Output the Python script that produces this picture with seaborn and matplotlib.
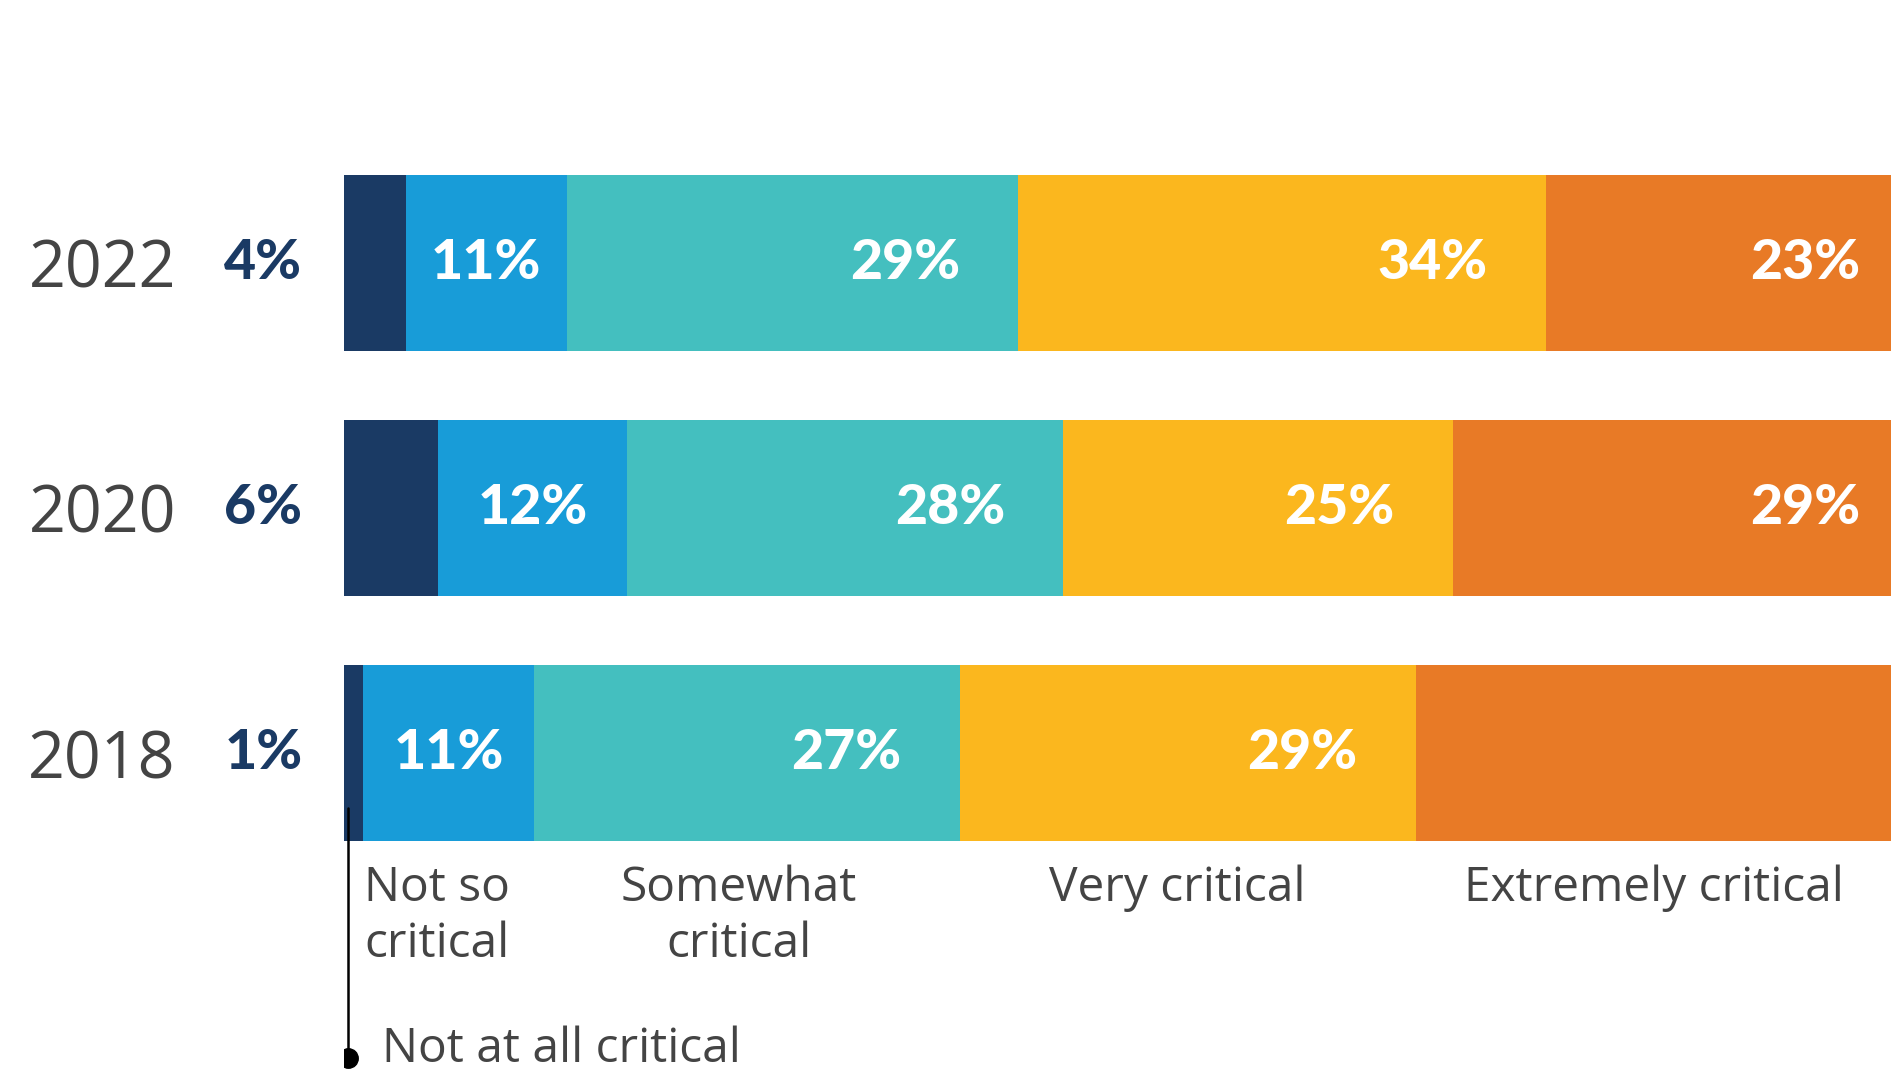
import numpy as np
import pandas as pd
import seaborn as sns
import matplotlib.pyplot as plt

# DATA (segment lengths, printed labels as shown)
years = ['2022', '2020', '2018']
categories = ['Not at all critical', 'Not so critical', 'Somewhat critical',
              'Very critical', 'Extremely critical']
not_at_all = [4.0, 6.1, 1.2]
not_so = [10.4, 12.2, 11.1]
somewhat = [29.2, 28.2, 27.5]
very = [34.1, 25.2, 29.5]
extremely = [22.3, 28.3, 30.7]
labels = [['4%', '11%', '29%', '34%', '23%'],
          ['6%', '12%', '28%', '25%', '29%'],
          ['1%', '11%', '27%', '29%', '']]

colors = ['#1a3a64', '#189cd8', '#44bfbf', '#fbb71e', '#e87a26']
text_gray = '#444444'

sns.set_style('white')
plt.rcParams['font.family'] = ['Open Sans', 'DejaVu Sans']

df = pd.DataFrame({'year': years, 'c0': not_at_all, 'c1': not_so,
                   'c2': somewhat, 'c3': very, 'c4': extremely})
vals = df[['c0', 'c1', 'c2', 'c3', 'c4']].to_numpy()
cum = vals.cumsum(axis=1)

fig = plt.figure(figsize=(18.91, 10.75), dpi=100)
left = 344 / 1891
ax = fig.add_axes([left, 0, 1 - left, 1])

# STACKED BARS: draw cumulative totals from the last segment back to the first
for k in range(4, -1, -1):
    sns.barplot(x=cum[:, k], y=df['year'], order=years, orient='h',
                color=colors[k], saturation=1, width=0.72, linewidth=0,
                ax=ax)

ax.set_xlim(0, 100)
ax.set_ylim(3.314, -1.073)
ax.set_xlabel('')
ax.set_ylabel('')
ax.set_xticks([])
sns.despine(ax=ax, left=True, bottom=True)
ax.tick_params(axis='y', length=0, pad=121, labelsize=46.5, labelcolor=text_gray)
for t in ax.get_yticklabels():
    t.set_fontfamily(['Open Sans', 'DejaVu Sans'])

# VALUE LABELS
lab_font = dict(family=['Lato', 'DejaVu Sans'], weight='black', fontsize=40)
for i in range(len(years)):
    ax.annotate(labels[i][0], xy=(0, i), xytext=(-30, 0),
                textcoords='offset points', ha='right', va='center',
                color=colors[0], **lab_font)
    # second segment: centred
    ax.annotate(labels[i][1], xy=(cum[i, 1] - vals[i, 1] / 2, i),
                ha='center', va='center', color='white', **lab_font)
    for k in range(2, 5):
        if not labels[i][k]:
            continue
        end = min(cum[i, k], 100)
        pad = 22 if k == 4 else 42
        ax.annotate(labels[i][k], xy=(end, i), xytext=(-pad, 0),
                    textcoords='offset points', ha='right', va='center',
                    color='white', **lab_font)

# CATEGORY LABELS UNDER THE 2018 BAR
cat_font = dict(fontsize=34.5, color=text_gray, va='top', linespacing=1.22)
bot = 2 + 0.36
start18 = cum[2] - vals[2]
mid18 = start18 + vals[2] / 2
ax.annotate('Not so\ncritical', xy=(start18[1], bot), xytext=(1, -17),
            textcoords='offset points', ha='left', **cat_font)
ax.annotate('Somewhat\ncritical', xy=(mid18[2], bot), xytext=(-6, -17),
            textcoords='offset points', ha='center', multialignment='center',
            **cat_font)
ax.annotate('Very critical', xy=(mid18[3], bot), xytext=(-8, -17),
            textcoords='offset points', ha='center', **cat_font)
ax.annotate('Extremely critical', xy=(mid18[4], bot), xytext=(0, -17),
            textcoords='offset points', ha='center', **cat_font)

# CALLOUT FOR THE SMALLEST SEGMENT
x0 = vals[2, 0] / 5
ax.plot([x0, x0], [2.224, 3.245], color='black', lw=1.8, zorder=5)
ax.plot([x0], [3.245], marker='o', markersize=14, color='black', zorder=6)
ax.annotate(categories[0], xy=(x0, 3.262), xytext=(25, 0),
            textcoords='offset points', ha='left', va='baseline',
            fontsize=34.5, color=text_gray)

fig.savefig('out.png', dpi=100)
